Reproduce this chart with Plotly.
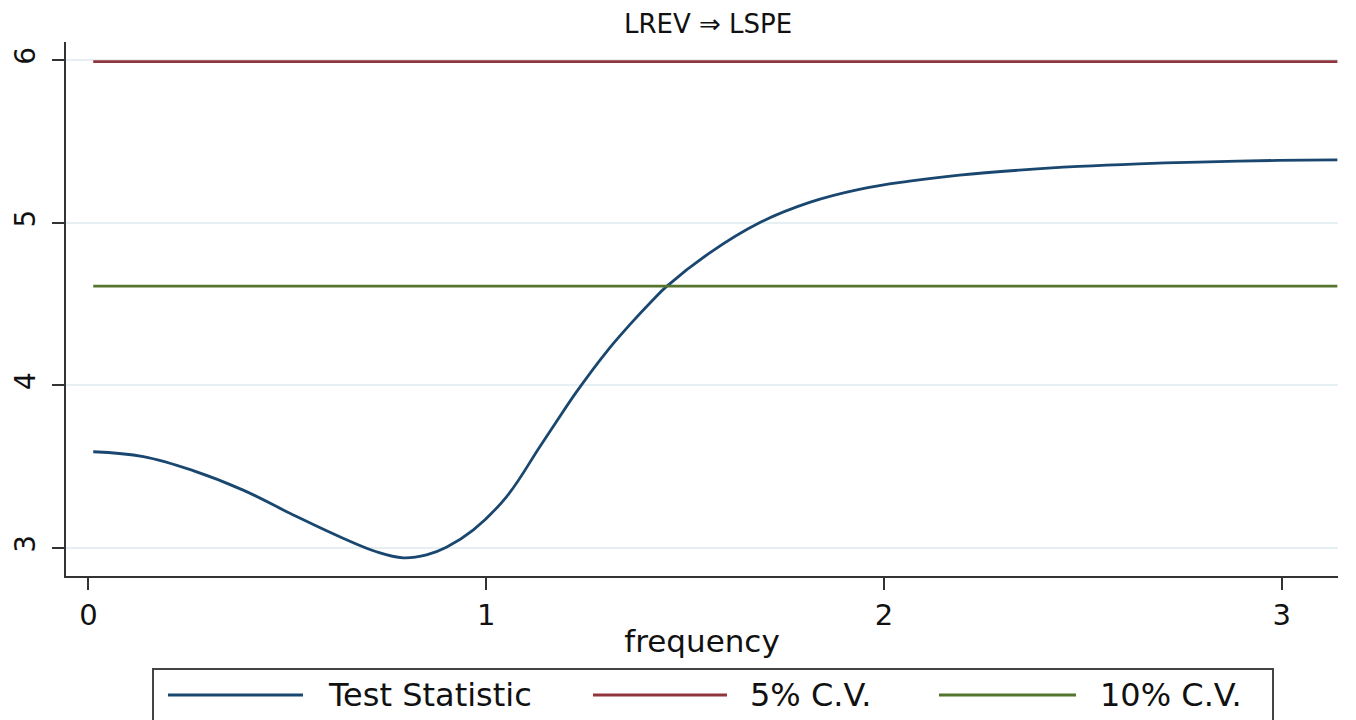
import plotly.graph_objects as go

# Data
frequency = [0.012, 0.138, 0.263, 0.389, 0.515, 0.640, 0.724, 0.791, 0.850, 0.900,
             0.967, 1.051, 1.134, 1.176, 1.227, 1.302, 1.360, 1.419, 1.453, 1.562,
             1.687, 1.813, 1.938, 2.064, 2.190, 2.340, 2.490, 2.640, 2.790, 2.990, 3.140]
test_statistic = [3.592, 3.562, 3.476, 3.356, 3.203, 3.060, 2.977, 2.940, 2.958, 3.005,
                  3.110, 3.315, 3.620, 3.775, 3.960, 4.205, 4.370, 4.525, 4.607, 4.815,
                  5.000, 5.125, 5.205, 5.255, 5.292, 5.323, 5.346, 5.362, 5.373, 5.383, 5.386]
cv_5 = 5.99
cv_10 = 4.61
series_names = ["Test Statistic", "5% C.V.", "10% C.V."]
series_colors = ["#1a476f", "#90353b", "#55752f"]
x_ticks = [0, 1, 2, 3]
y_ticks = [3, 4, 5, 6]

FONT = "DejaVu Sans"
TXT = "#111111"
AX = "#333333"

fig = go.Figure()
fig.add_trace(go.Scatter(x=frequency, y=test_statistic, mode="lines", name=series_names[0],
                         line=dict(color=series_colors[0], width=2.8, shape="spline", smoothing=1.1)))
fig.add_trace(go.Scatter(x=[frequency[0], frequency[-1]], y=[cv_5, cv_5], mode="lines",
                         name=series_names[1], line=dict(color=series_colors[1], width=2.8)))
fig.add_trace(go.Scatter(x=[frequency[0], frequency[-1]], y=[cv_10, cv_10], mode="lines",
                         name=series_names[2], line=dict(color=series_colors[2], width=2.8)))

# Geometry (screen pixels of the target; page body adds an 8px offset)
W, H = 1356, 720
OFF = 8
PL, PT, PR, PB = 66, 42, 1338, 576          # plot area on screen
pw, ph = PR - PL, PB - PT
L, T = PL - OFF, PT - OFF
R, B = W - L - pw, H - T - ph

def px_x(p):
    return (p - PL) / pw
def px_y(p):
    return (PB - p) / ph

# Legend: framed row below the plot
shapes = [dict(type="rect", xref="paper", yref="paper",
               x0=px_x(153), x1=px_x(1273), y0=px_y(740), y1=px_y(669),
               line=dict(color="#444444", width=2), fillcolor="white", layer="above")]
annotations = []
leg_line_px = [(168, 303), (593, 727), (939, 1076)]
leg_text_px = [326, 748, 1098]
leg_y = 695
for name, color, (a, b), tx in zip(series_names, series_colors, leg_line_px, leg_text_px):
    shapes.append(dict(type="line", xref="paper", yref="paper", x0=px_x(a), x1=px_x(b),
                       y0=px_y(leg_y), y1=px_y(leg_y), line=dict(color=color, width=2.8),
                       layer="above"))
    annotations.append(dict(text=name, xref="paper", yref="paper", x=px_x(tx), y=px_y(leg_y),
                            xanchor="left", yanchor="middle", showarrow=False,
                            font=dict(size=32, family=FONT, color=TXT)))

fig.update_layout(
    width=W, height=H,
    margin=dict(l=L, r=R, t=T, b=B, autoexpand=False),
    paper_bgcolor="white", plot_bgcolor="white",
    font=dict(family=FONT, color=TXT),
    title=dict(text="LREV ⇒ LSPE", x=(708 - OFF) / W, xanchor="center",
               y=1 - (24 - OFF) / H, yanchor="middle",
               font=dict(size=26, family=FONT, color=TXT)),
    showlegend=False,
    shapes=shapes,
    annotations=annotations,
)
fig.update_xaxes(range=[-0.0565, 3.1416], tickvals=x_ticks, ticks="outside", ticklen=12,
                 tickwidth=2, tickcolor=AX, showline=True, linecolor=AX, automargin=False,
                 linewidth=2, showgrid=False, zeroline=False,
                 tickfont=dict(size=29, family=FONT, color=TXT),
                 title=dict(text="frequency", font=dict(size=31, family=FONT, color=TXT),
                            standoff=0))
fig.update_yaxes(range=[2.828, 6.111], tickvals=y_ticks, ticks="outside", ticklen=12,
                 tickwidth=2, tickcolor=AX, showline=True, linecolor=AX, automargin=False,
                 linewidth=2, showgrid=True, gridcolor="#e6eff1", gridwidth=2,
                 zeroline=False, tickangle=-90, ticklabelstandoff=6,
                 tickfont=dict(size=28, family=FONT, color=TXT))

fig.write_html("out.html")
